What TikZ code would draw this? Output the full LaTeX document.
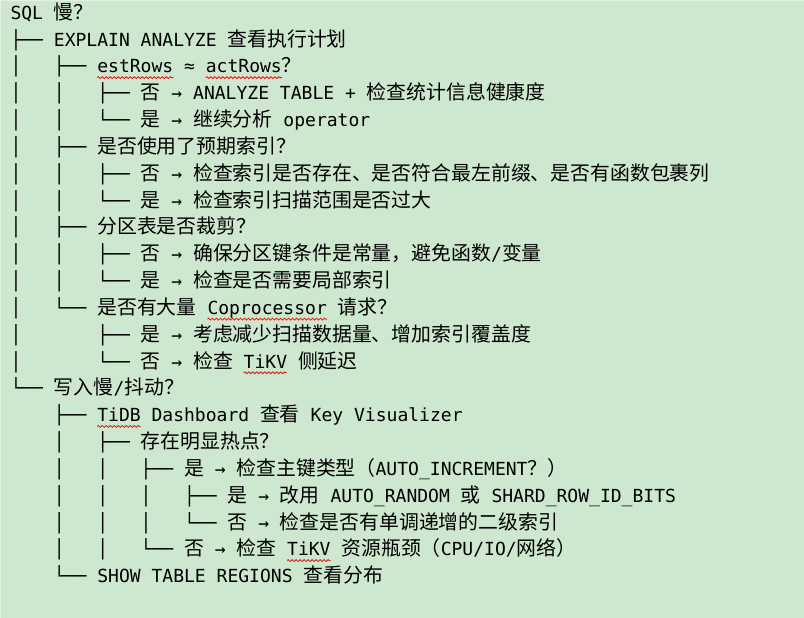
\documentclass[tikz,border=0pt]{standalone}
\usepackage{fontspec}
\setmainfont{DejaVu Sans Mono}
\newfontfamily\cjkfam{Noto Sans CJK SC}
\usetikzlibrary{decorations.pathmorphing}
\definecolor{bgpaper}{RGB}{205,232,206}
\definecolor{bgedge}{RGB}{228,240,228}
\definecolor{spellred}{RGB}{232,20,20}
\newcommand\monosz{\fontsize{13.52pt}{16pt}\selectfont}
\newcommand\zh[1]{{\cjkfam\fontsize{14.9pt}{16pt}\selectfont#1}}
\newcommand\tsp{~\kern0pt}
\tikzset{
  ln/.style={anchor=base west, inner sep=0pt, outer sep=0pt, font=\monosz, text=black},
  spell/.style={draw=spellred, line width=0.6pt, decorate,
    decoration={zigzag, segment length=3pt, amplitude=0.7pt}}
}
\begin{document}
\begin{tikzpicture}[x=0.75pt,y=-0.75pt]
\fill[bgpaper] (0,0) rectangle (804,618);
\useasboundingbox (0,0) rectangle (804,618);
\draw[bgedge, line width=1pt] (0.5,618) -- (0.5,0.5) -- (804,0.5);
% line 1
\node[ln] (l1) at (10.5,19.3) {SQL \zh{慢？}};
\node[ln] (l2) at (10.5,46.13) {├──~EXPLAIN ANALYZE \zh{查看执行计划}};
% line 3
\node[ln] (l3a) at (10.5,72.96) {│~~~├──\tsp};
\node[ln] (l3b) at (l3a.base east) {estRows};
\node[ln] (l3c) at (l3b.base east) {~≈\tsp};
\node[ln] (l3d) at (l3c.base east) {actRows};
\node[ln] (l3e) at (l3d.base east) {\zh{？}};
\node[ln] (l4) at (10.5,99.79) {│~~~│~~~├──~\zh{否} → ANALYZE TABLE + \zh{检查统计信息健康度}};
\node[ln] (l5) at (10.5,126.62) {│~~~│~~~└──~\zh{是} → \zh{继续分析} operator};
\node[ln] (l6) at (10.5,153.45) {│~~~├──~\zh{是否使用了预期索引？}};
\node[ln] (l7) at (10.5,180.28) {│~~~│~~~├──~\zh{否} → \zh{检查索引是否存在、是否符合最左前缀、是否有函数包裹列}};
\node[ln] (l8) at (10.5,207.11) {│~~~│~~~└──~\zh{是} → \zh{检查索引扫描范围是否过大}};
\node[ln] (l9) at (10.5,233.94) {│~~~├──~\zh{分区表是否裁剪？}};
\node[ln] (l10) at (10.5,260.77) {│~~~│~~~├──~\zh{否} → \zh{确保分区键条件是常量，避免函数}/\zh{变量}};
\node[ln] (l11) at (10.5,287.6) {│~~~│~~~└──~\zh{是} → \zh{检查是否需要局部索引}};
% line 12
\node[ln] (l12a) at (10.5,314.43) {│~~~└──~\zh{是否有大量}\tsp};
\node[ln] (l12b) at (l12a.base east) {Coprocessor};
\node[ln] (l12c) at (l12b.base east) {~\zh{请求？}};
\node[ln] (l13) at (10.5,341.26) {│~~~~~~~├──~\zh{是} → \zh{考虑减少扫描数据量、增加索引覆盖度}};
% line 14
\node[ln] (l14a) at (10.5,368.09) {│~~~~~~~└──~\zh{否} → \zh{检查}\tsp};
\node[ln] (l14b) at (l14a.base east) {TiKV};
\node[ln] (l14c) at (l14b.base east) {~\zh{侧延迟}};
\node[ln] (l15) at (10.5,394.92) {└──~\zh{写入慢}/\zh{抖动？}};
% line 16
\node[ln] (l16a) at (10.5,421.75) {~~~~├──\tsp};
\node[ln] (l16b) at (l16a.base east) {TiDB};
\node[ln] (l16c) at (l16b.base east) {~Dashboard \zh{查看} Key Visualizer};
\node[ln] (l17) at (10.5,448.58) {~~~~│~~~├──~\zh{存在明显热点？}};
\node[ln] (l18) at (10.5,475.41) {~~~~│~~~│~~~├──~\zh{是} → \zh{检查主键类型（}AUTO\_INCREMENT\zh{？）}};
\node[ln] (l19) at (10.5,502.24) {~~~~│~~~│~~~│~~~├──~\zh{是} → \zh{改用} AUTO\_RANDOM \zh{或} SHARD\_ROW\_ID\_BITS};
\node[ln] (l20) at (10.5,529.07) {~~~~│~~~│~~~│~~~└──~\zh{否} → \zh{检查是否有单调递增的二级索引}};
% line 21
\node[ln] (l21a) at (10.5,555.9) {~~~~│~~~│~~~└──~\zh{否} → \zh{检查}\tsp};
\node[ln] (l21b) at (l21a.base east) {TiKV};
\node[ln] (l21c) at (l21b.base east) {~\zh{资源瓶颈（}CPU/IO/\zh{网络）}};
\node[ln] (l22) at (10.5,582.73) {~~~~└──~SHOW TABLE REGIONS \zh{查看分布}};
% spell-check underlines
\foreach \w in {l3b,l3d,l12b,l14b,l16b,l21b}{
  \draw[spell] ([yshift=-3.5pt]\w.base west) -- ([yshift=-3.5pt]\w.base east);
}
\end{tikzpicture}
\end{document}
